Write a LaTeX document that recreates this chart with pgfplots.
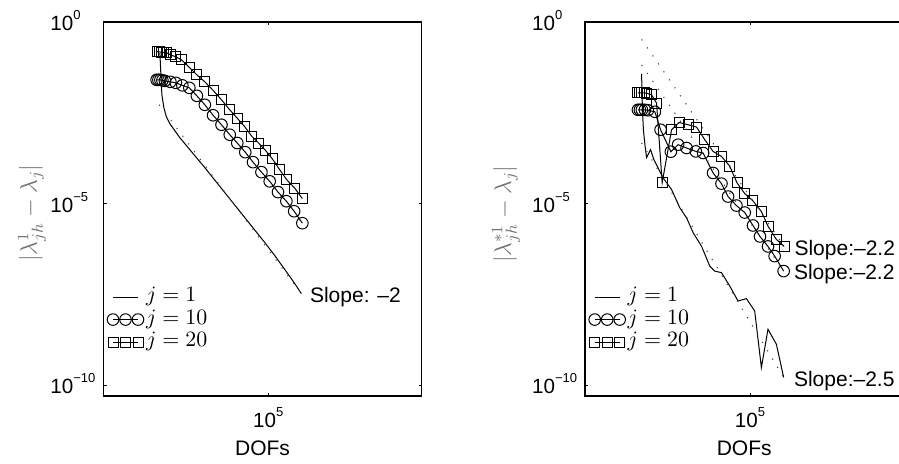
\documentclass[border=0pt]{standalone}
\usepackage{fontspec}
\setmainfont{Liberation Sans}
\usepackage{pgfplots}
\pgfplotsset{compat=1.18}
\newcommand{\expo}[1]{\raisebox{5.6pt}{\fontsize{6.5}{7}\selectfont #1}}
\pgfplotsset{
 legline/.style={legend image code/.code={\path[draw=none,fill=none] (-3pt,-3pt) rectangle (15.5pt,3pt); \draw[##1] (0pt,0pt) -- (12.5pt,0pt);}},
 legmarks/.style={legend image code/.code={\path[draw=none,fill=none] (-3pt,-3pt) rectangle (15.5pt,3pt); \draw[##1] plot coordinates {(0pt,0pt) (6.25pt,0pt) (12.5pt,0pt)};}},
}
\begin{document}
\begin{tikzpicture}
\useasboundingbox (0,0) rectangle (449.5pt,231.5pt);
\clip (0,0) rectangle (449.5pt,231.5pt);
% ---------------- left ----------------
\begin{axis}[xmode=log, ymode=log, scale only axis, width=159.2pt, height=187pt,
  at={(51.65pt,33.5pt)}, anchor=south west,
  xmin=100, xmax=6.15e7, ymin=5.01e-11, ymax=1,
  xtick={1e5}, xticklabels={10\expo{5}},
  ytick={1e-10,1e-5,1}, yticklabels={10\expo{−10},10\expo{−5},10\expo{0}},
  minor xtick={}, minor ytick={},
  tick pos=both, tick align=inside, major tick length=1.6pt,
  axis line style={line width=0.7pt},
  every tick/.style={black,line width=0.5pt},
  clip mode=individual,
  xticklabel style={anchor=north, inner sep=0pt, yshift=-5.5pt, font=\fontsize{10.3}{12}\selectfont},
  yticklabel style={anchor=base west, inner sep=0pt, xshift=-26.65pt, yshift=-4.4pt, font=\fontsize{10.3}{12}\selectfont},
  xlabel={DOFs},
  xlabel style={at={(axis description cs:0.5,0)}, anchor=north, inner sep=0pt, yshift=-22pt, font=\fontsize{10.5}{12}\selectfont},
  ylabel={$|\lambda^1_{jh}-\lambda_j|$},
  ylabel style={at={(axis description cs:-0.224,0.489)}, anchor=center, inner sep=0pt, font=\fontsize{11.5}{13}\selectfont, text=black!55},
  legend style={draw=none, fill=none, at={(axis description cs:0,0)}, anchor=south west,
    xshift=1.85pt, yshift=21.35pt, inner sep=0pt, outer sep=0pt, row sep=0pt, column sep=0pt,
    font=\fontsize{10.5}{12}\selectfont, nodes={inner sep=1pt, text height=7pt, text depth=2.25pt}},
  legend cell align=left]
\addplot[black, line width=0.5pt, no markers, legline]
 coordinates {(1069,0.1406)(1115,0.0350)(1162,0.00988)(1264,0.00434)(1403,0.002455)(1626,0.001577)(2000,0.001012)(2466,6.50e-4)(3266,3.92e-4)(4613,2.08e-4)(7015,9.75e-5)(10640,4.42e-5)(16180,2.00e-5)(24550,9.09e-6)(37320,4.12e-6)(56620,1.87e-6)(86060,8.49e-7)(130600,3.72e-7)(198600,1.54e-7)(301300,6.34e-8)(399000,3.30e-8)};
\addlegendentry{$j=1$}
\addplot[black, line width=0.5pt, mark=o, mark size=2.9pt, mark options={solid, line width=0.5pt}, legmarks]
 coordinates {(931,0.02551)(1004,0.0255)(1091,0.0255)(1187,0.0247)(1318,0.0239)(1659,0.0225)(2086,0.0211)(2737,0.0180)(3666,0.01538)(5023,0.00927)(7015,0.00525)(9910,0.0027)(14090,0.00148)(19910,7.87e-4)(27290,4.65e-4)(38110,2.60e-4)(52720,1.38e-4)(74990,7.33e-5)(106000,4.10e-5)(150000,2.07e-5)(212900,1.16e-5)(295100,6.14e-6)(415900,2.88e-6)};
\addlegendentry{$j=10$}
\addplot[black, line width=0.5pt, mark=square, mark size=2.5pt, mark options={solid, line width=0.5pt}, legmarks]
 coordinates {(955,0.153)(1069,0.150)(1162,0.145)(1264,0.1435)(1432,0.1406)(1694,0.1240)(2086,0.1092)(2648,0.0904)(3639,0.0569)(5023,0.0350)(7015,0.0225)(9910,0.01313)(14090,0.00720)(19910,0.00382)(27290,0.002234)(37320,0.001303)(50000,7.15e-4)(66990,4.59e-4)(89740,2.86e-4)(117800,1.72e-4)(161000,8.59e-5)(215800,4.56e-5)(301300,2.67e-5)(415900,1.37e-5)};
\addlegendentry{$j=20$}
\addplot[black!75, line width=0.55pt, dash pattern=on 0.55pt off 4.3pt, no markers, forget plot]
 coordinates {(1038,5.25e-3)(399000,3.30e-8)};
\node[anchor=base west, inner sep=0pt, xshift=4.15pt, yshift=-4.5pt, font=\fontsize{10.5}{12}\selectfont] at (axis cs:399000,3.30e-8) {Slope: –2};
\end{axis}
% ---------------- right ----------------
\begin{axis}[xmode=log, ymode=log, scale only axis, width=159.2pt, height=187pt,
  at={(292.5pt,33.5pt)}, anchor=south west,
  xmin=100, xmax=6.15e7, ymin=5.01e-11, ymax=1,
  xtick={1e5}, xticklabels={10\expo{5}},
  ytick={1e-10,1e-5,1}, yticklabels={10\expo{−10},10\expo{−5},10\expo{0}},
  minor xtick={}, minor ytick={},
  tick pos=both, tick align=inside, major tick length=1.6pt,
  axis line style={line width=0.7pt},
  every tick/.style={black,line width=0.5pt},
  clip mode=individual,
  xticklabel style={anchor=north, inner sep=0pt, yshift=-5.5pt, font=\fontsize{10.3}{12}\selectfont},
  yticklabel style={anchor=base west, inner sep=0pt, xshift=-26.65pt, yshift=-4.4pt, font=\fontsize{10.3}{12}\selectfont},
  xlabel={DOFs},
  xlabel style={at={(axis description cs:0.5,0)}, anchor=north, inner sep=0pt, yshift=-22pt, font=\fontsize{10.5}{12}\selectfont},
  ylabel={$|\lambda^{*1}_{jh}-\lambda_j|$},
  ylabel style={at={(axis description cs:-0.248,0.486)}, anchor=center, inner sep=0pt, font=\fontsize{11.5}{13}\selectfont, text=black!55},
  legend style={draw=none, fill=none, at={(axis description cs:0,0)}, anchor=south west,
    xshift=1.85pt, yshift=21.35pt, inner sep=0pt, outer sep=0pt, row sep=0pt, column sep=0pt,
    font=\fontsize{10.5}{12}\selectfont, nodes={inner sep=1pt, text height=7pt, text depth=2.25pt}},
  legend cell align=left]
\addplot[black, line width=0.5pt, no markers, legline]
 coordinates {(1069,0.03727)(1106,0.00382)(1153,0.001079)(1227,4.18e-4)(1318,1.84e-4)(1557,3.05e-4)(1788,1.62e-4)(2636,5.08e-5)(3750,2.43e-5)(5297,7.62e-6)(7015,4.05e-6)(9246,1.57e-6)(13120,6.71e-7)(18570,1.89e-7)(22870,1.38e-7)(30270,1.25e-7)(42850,5.35e-8)(60530,2.07e-8)(86060,2.41e-8)(121600,1.10e-8)(161000,3.06e-10)(212300,3.45e-9)(301300,1.34e-9)(409000,1.63e-10)};
\addlegendentry{$j=1$}
\addplot[black, line width=0.5pt, mark=o, mark size=2.9pt, mark options={solid, line width=0.5pt}, legmarks]
 coordinates {(916,0.00382)(995,0.00382)(1082,0.00382)(1227,0.00382)(1390,0.00371)(1864,0.00337)(2366,0.001079)(3639,2.68e-4)(4932,4.18e-4)(7015,3.39e-4)(10350,2.73e-4)(14030,2.47e-4)(21290,6.97e-5)(30270,3.54e-5)(39900,1.56e-5)(56620,8.81e-6)(80170,5.66e-6)(113300,2.49e-6)(151800,1.24e-6)(212300,6.59e-7)(280500,3.57e-7)(409000,1.38e-7)};
\addlegendentry{$j=10$}
\addplot[black, line width=0.5pt, mark=square, mark size=2.5pt, mark options={solid, line width=0.5pt}, legmarks]
 coordinates {(916,0.0112)(995,0.0112)(1082,0.0112)(1202,0.0112)(1334,0.01086)(1625,0.00988)(2000,0.00584)(2529,3.77e-5)(3750,0.001079)(5145,0.001713)(7499,0.00148)(10640,0.00128)(15070,5.73e-4)(21290,2.73e-4)(30270,1.99e-4)(42850,1.07e-4)(58070,3.71e-5)(80170,1.88e-5)(111900,1.21e-5)(161000,6.03e-6)(212300,2.38e-6)(301300,1.03e-6)(417800,6.59e-7)};
\addlegendentry{$j=20$}
\addplot[black!75, line width=0.55pt, dash pattern=on 0.55pt off 4.3pt, no markers, forget plot]
 coordinates {(1069,4.68e-4)(409000,1.63e-10)};
\addplot[black!75, line width=0.55pt, dash pattern=on 0.55pt off 4.3pt, no markers, forget plot]
 coordinates {(1069,0.0659)(409000,1.38e-7)};
\addplot[black!75, line width=0.55pt, dash pattern=on 0.55pt off 4.3pt, no markers, forget plot]
 coordinates {(1069,0.3305)(417800,6.59e-7)};
\node[anchor=base west, inner sep=0pt, xshift=5pt, yshift=-4.3pt, font=\fontsize{10.5}{12}\selectfont] at (axis cs:417800,6.59e-7) {Slope:–2.2};
\node[anchor=base west, inner sep=0pt, xshift=5pt, yshift=-4.4pt, font=\fontsize{10.5}{12}\selectfont] at (axis cs:409000,1.38e-7) {Slope:–2.2};
\node[anchor=base west, inner sep=0pt, xshift=5pt, yshift=-4.6pt, font=\fontsize{10.5}{12}\selectfont] at (axis cs:409000,1.63e-10) {Slope:–2.5};
\end{axis}
\end{tikzpicture}
\end{document}
